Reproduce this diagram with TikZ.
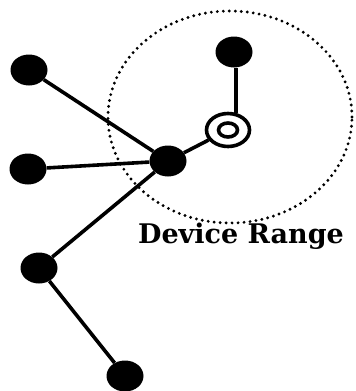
\documentclass[tikz,border=0pt]{standalone}
\usepackage{fontspec}
\usepackage{tikz}
\usetikzlibrary{shapes.geometric, positioning}
\newfontfamily\rangefont{DejaVu Serif}
\tikzstyle{peer} = [ellipse, fill=black, minimum width=37, minimum height=31, inner sep=0pt]
\tikzstyle{link} = [line width=3.6pt]
\tikzstyle{rangeline} = [line width=3.2pt, dash pattern=on 0pt off 6pt, line cap=round]

\begin{document}
\begin{tikzpicture}[x=1pt, y=-1pt]
    \useasboundingbox (0,0) rectangle (356,391);

    % Range of the device
    \node[ellipse, rangeline, draw, minimum width=244, minimum height=212, inner sep=0pt] (range) at (230,117) {};
    \node[font=\rangefont\bfseries\fontsize{27}{27}\selectfont, inner sep=0pt] (label) at (241,236) {Device Range};

    % Peers
    \node[peer] (upleft) at (29,70) {};
    \node[peer] (midleft) at (28,169) {};
    \node[peer] (hub) at (168,161) {};
    \node[peer] (top) at (234,52) {};
    \node[peer] (lowleft) at (39,268) {};
    \node[peer] (bottom) at (125,376) {};

    % Device
    \node[ellipse, draw, line width=3.6pt, fill=white, minimum width=43, minimum height=33, inner sep=0pt] (device) at (228,130) {};
    \node[ellipse, draw, line width=3.6pt, minimum width=19, minimum height=14, inner sep=0pt] (devcore) at (device.center) {};

    % Links
    \draw[link] (upleft) -- (hub);
    \draw[link] (midleft) -- (hub);
    \draw[link] (hub) -- (lowleft);
    \draw[link] (lowleft) -- (bottom);
    \draw[link] (hub) -- (device);
    \draw[link] (device.65) -- (device.65 |- top.south);
\end{tikzpicture}
\end{document}
